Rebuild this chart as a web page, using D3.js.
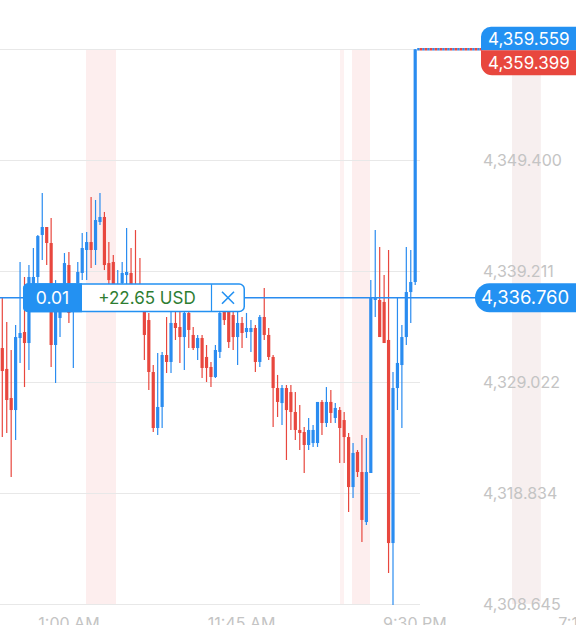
<!DOCTYPE html>
<html>
<head>
<meta charset="utf-8">
<script src="https://cdn.jsdelivr.net/npm/d3@7"></script>
<style>
  body { margin: 0; background: #fff; overflow: hidden; }
  svg { display: block; font-family: Inter, "Noto Sans", sans-serif; }
</style>
</head>
<body>
<svg id="chart"></svg>
<script>
var width = 576, height = 625;

// candle data, 15 min bars
var opens = [4332.14,4330.22,4327.55,4326.45,4333.06,4333.61,4332.60,4336.55,4338.66,4342.52,
  4343.25,4341.78,4332.42,4334.90,4337.01,4339.76,4336.09,4338.11,4339.03,4341.14,
  4341.87,4341.14,4343.71,4344.17,4339.94,4340.04,4337.47,4338.11,4338.84,4339.03,
  4337.93,4337.47,4336.09,4334.71,4329.94,4324.80,4326.73,4331.50,4330.86,4334.44,
  4334.07,4333.15,4335.36,4333.34,4332.14,4333.06,4331.32,4330.40,4329.48,4331.78,
  4336.09,4335.63,4335.17,4333.15,4334.44,4333.61,4333.61,4333.98,4330.86,4334.99,
  4333.34,4331.32,4328.47,4327.09,4328.47,4328.10,4326.27,4324.62,4324.43,4323.24,
  4323.42,4323.42,4327.19,4325.26,4327.19,4325.72,4326.45,4325.53,4323.97,4319.38,
  4322.60,4320.76,4316.17,4320.67,4336.55,4336.55,4336.37,4332.88,4314.24,4328.47,
  4330.58,4333.15,4337.28,4338.20];
var highs = [4336.82,4334.53,4331.96,4334.25,4340.04,4338.66,4339.76,4341.32,4342.52,4346.37,
  4343.25,4344.08,4338.38,4336.55,4340.86,4340.95,4337.47,4340.04,4342.70,4342.79,
  4346.00,4345.73,4346.37,4344.63,4341.87,4340.68,4339.30,4340.04,4343.16,4341.32,
  4342.97,4340.40,4337.01,4335.36,4330.58,4331.68,4331.78,4334.99,4336.09,4335.63,
  4335.63,4336.09,4336.09,4334.07,4333.34,4333.34,4332.42,4330.86,4332.42,4336.09,
  4336.55,4336.09,4335.81,4335.63,4334.99,4335.36,4334.71,4334.25,4335.17,4337.65,
  4333.98,4331.50,4329.67,4328.75,4328.75,4328.75,4328.10,4326.91,4324.89,4325.72,
  4325.08,4327.19,4327.37,4328.56,4328.29,4327.09,4326.73,4326.27,4324.34,4323.42,
  4322.78,4324.16,4323.88,4338.38,4342.97,4341.41,4338.84,4341.14,4329.94,4336.82,
  4334.25,4341.41,4341.14,4359.59];
var lows = [4323.97,4324.34,4320.30,4323.70,4330.77,4328.56,4330.12,4336.09,4338.11,4340.22,
  4339.76,4330.40,4328.93,4333.15,4336.55,4334.44,4330.31,4336.55,4338.38,4338.38,
  4339.49,4339.76,4343.43,4339.30,4337.93,4336.55,4336.73,4337.47,4337.93,4336.73,
  4336.09,4335.63,4331.04,4328.29,4324.43,4324.16,4324.80,4329.85,4329.85,4332.88,
  4330.77,4330.12,4332.14,4331.96,4331.04,4329.39,4329.02,4328.56,4329.39,4331.22,
  4334.25,4332.14,4331.96,4330.58,4332.14,4333.06,4331.78,4329.94,4330.40,4332.88,
  4331.04,4324.89,4325.81,4325.08,4321.86,4324.62,4323.70,4322.78,4320.67,4322.78,
  4323.06,4323.06,4324.16,4324.89,4325.26,4325.26,4321.59,4321.59,4317.09,4318.37,
  4320.30,4314.34,4315.90,4320.67,4334.99,4333.15,4332.60,4311.49,4308.55,4326.45,
  4324.80,4332.42,4334.44,4337.93];
var closes = [4330.03,4327.37,4326.45,4333.15,4333.52,4332.60,4338.66,4338.66,4342.42,4343.25,
  4341.78,4332.42,4335.45,4336.09,4339.94,4335.36,4337.01,4339.12,4341.32,4341.87,
  4341.14,4343.89,4344.17,4339.76,4338.38,4337.01,4337.93,4339.03,4339.12,4337.47,
  4336.55,4336.09,4333.34,4329.94,4324.80,4326.73,4331.50,4330.86,4334.44,4333.98,
  4333.15,4335.36,4333.80,4332.14,4333.06,4330.31,4330.31,4329.48,4331.96,4335.36,
  4334.71,4332.69,4333.15,4334.44,4333.52,4333.98,4333.98,4330.86,4334.99,4333.34,
  4331.32,4328.47,4327.19,4328.47,4326.45,4326.27,4324.62,4324.34,4323.24,4324.62,
  4324.62,4327.19,4325.26,4327.19,4326.18,4326.64,4324.80,4323.97,4319.38,4322.51,
  4320.76,4316.36,4320.76,4336.73,4336.73,4333.15,4332.60,4314.24,4328.47,4330.77,
  4333.15,4337.28,4338.20,4359.56];

var gridTicks = [4308.645, 4318.834, 4329.022, 4339.211, 4349.400, 4359.589];
var yLabelTicks = [4308.645, 4318.834, 4329.022, 4339.211, 4349.400]; // top one sits under the price tags
var xTickPos = [14.9, 53.8, 92.8, 131.8];            // in bar units
var xTickLabels = ["1:00 AM", "11:45 AM", "9:30 PM", "7:15 AM"];
var sessions = [[18.85, 25.6, "#fdeeee"], [76.06, 76.96, "#fdf1f1"], [78.77, 82.82, "#fdeeee"], [114.8, 121.3, "#f7efef"]];

var askPrice = 4359.559, bidPrice = 4359.399;
var entryPrice = 4336.760, lotSize = "0.01", pnlText = "+22.65 USD";

var blue = "#2a8cf0", red = "#e8473e", tagBlue = "#2391f2";
var plotRight = 420, plotTop = 49, plotBottom = 604;

var svg = d3.select('#chart').attr('width', width).attr('height', height);

var x = d3.scaleLinear().domain([0, 93]).range([2.3, 415.2]);
var y = d3.scaleLinear().domain([4308.645, 4349.400]).range([604, 160]);

// session shading
svg.append('g').selectAll('rect')
  .data(sessions).enter().append('rect')
    .attr('x', d => x(d[0]))
    .attr('width', d => x(d[1]) - x(d[0]))
    .attr('y', plotTop)
    .attr('height', plotBottom - plotTop)
    .attr('fill', d => d[2]);

// grid
svg.append('g').selectAll('line')
  .data(gridTicks).enter().append('line')
    .attr('x1', 0).attr('x2', plotRight)
    .attr('y1', d => Math.round(y(d)) + 0.5).attr('y2', d => Math.round(y(d)) + 0.5)
    .attr('stroke', '#e8e8e8');

// y axis labels
var yAxis = svg.append('g')
  .attr('transform', 'translate(480,0)')
  .call(d3.axisRight(y).tickValues(yLabelTicks).tickSize(0).tickPadding(3).tickFormat(d3.format(',.3f')));
yAxis.select('.domain').remove();
yAxis.selectAll('text').attr('fill', '#c4c4c4').attr('font-size', 16).attr('font-family', 'Inter').attr('dy', '0.36em');

// x axis labels
var xAxis = svg.append('g')
  .attr('transform', 'translate(0,604)')
  .call(d3.axisBottom(x).tickValues(xTickPos).tickSize(0).tickPadding(14).tickFormat((d, i) => xTickLabels[i]));
xAxis.select('.domain').remove();
xAxis.selectAll('text').attr('fill', '#c4c4c4').attr('font-size', 16).attr('font-family', 'Inter');

// candles
var bars = d3.range(opens.length).map(i => ({i: i, o: opens[i], h: highs[i], l: lows[i], c: closes[i]}));
var candle = svg.append('g').selectAll('g')
  .data(bars).enter().append('g');
candle.append('line')
  .attr('x1', d => x(d.i)).attr('x2', d => x(d.i))
  .attr('y1', d => y(d.h)).attr('y2', d => y(d.l))
  .attr('stroke', d => d.c >= d.o ? blue : red)
  .attr('stroke-width', 1.2);
candle.append('rect')
  .attr('x', d => x(d.i) - 1.6)
  .attr('width', 3.2)
  .attr('y', d => y(Math.max(d.o, d.c)))
  .attr('height', d => Math.max(1.2, Math.abs(y(d.o) - y(d.c))))
  .attr('fill', d => d.c >= d.o ? blue : red);

// last price dotted line
var lastX = x(bars.length - 1);
svg.append('line')
  .attr('x1', lastX + 2).attr('x2', 482).attr('y1', y(askPrice)).attr('y2', y(askPrice))
  .attr('stroke', blue).attr('stroke-width', 2.5).attr('stroke-dasharray', '2.5,2.5');
svg.append('line')
  .attr('x1', lastX + 2).attr('x2', 482).attr('y1', y(askPrice)).attr('y2', y(askPrice))
  .attr('stroke', red).attr('stroke-width', 2.5).attr('stroke-dasharray', '2.5,2.5').attr('stroke-dashoffset', 2.5);

function leftPill(px, py, w, h, rt, rb) {
  return 'M' + (px + rt) + ',' + py + 'H' + (px + w) + 'V' + (py + h) + 'H' + (px + rb) +
    'A' + rb + ',' + rb + ' 0 0 1 ' + px + ',' + (py + h - rb) + 'V' + (py + rt) +
    'A' + rt + ',' + rt + ' 0 0 1 ' + (px + rt) + ',' + py + 'Z';
}

// ask / bid labels
var askY = y(askPrice);
svg.append('path').attr('d', leftPill(481, askY - 22.5, 100, 23.5, 10, 0)).attr('fill', tagBlue);
svg.append('path').attr('d', leftPill(481, askY + 1, 100, 25, 0, 11)).attr('fill', red);
svg.append('text').attr('x', 488).attr('y', askY - 10.5).attr('dy', '0.36em')
  .attr('fill', '#fff').attr('font-size', 17).text(d3.format(',.3f')(askPrice));
svg.append('text').attr('x', 488).attr('y', askY + 13.5).attr('dy', '0.36em')
  .attr('fill', '#fff').attr('font-size', 17).text(d3.format(',.3f')(bidPrice));

// position line
var posY = y(entryPrice);
svg.append('line')
  .attr('x1', 0).attr('x2', 478).attr('y1', posY).attr('y2', posY)
  .attr('stroke', blue).attr('stroke-width', 1.5);

svg.append('path').attr('d', leftPill(475, posY - 14.5, 110, 29, 14.5, 14.5)).attr('fill', tagBlue);
svg.append('text').attr('x', 481).attr('y', posY).attr('dy', '0.36em')
  .attr('fill', '#fff').attr('font-size', 18.5).text(d3.format(',.3f')(entryPrice));

var box = svg.append('g').attr('transform', 'translate(23,' + (posY - 14.5) + ')');
box.append('rect').attr('x', 0.75).attr('y', 0.75).attr('width', 220.5).attr('height', 27.5)
  .attr('rx', 5).attr('fill', '#fff').attr('stroke', tagBlue).attr('stroke-width', 1.5);
box.append('path').attr('d', 'M5,0H59V29H5A5,5 0 0 1 0,24V5A5,5 0 0 1 5,0Z').attr('fill', tagBlue);
box.append('text').attr('x', 29.5).attr('y', 14.5).attr('dy', '0.36em').attr('text-anchor', 'middle')
  .attr('fill', '#fff').attr('font-size', 17.5).text(lotSize);
box.append('text').attr('x', 124).attr('y', 14.5).attr('dy', '0.36em').attr('text-anchor', 'middle')
  .attr('fill', '#2e7d32').attr('font-size', 17).text(pnlText);
box.append('line').attr('x1', 188.5).attr('x2', 188.5).attr('y1', 1).attr('y2', 28)
  .attr('stroke', tagBlue).attr('stroke-width', 1.2);
box.append('path').attr('d', 'M199,8.5L211,20.5M211,8.5L199,20.5')
  .attr('stroke', tagBlue).attr('stroke-width', 1.6).attr('fill', 'none');
</script>
</body>
</html>
